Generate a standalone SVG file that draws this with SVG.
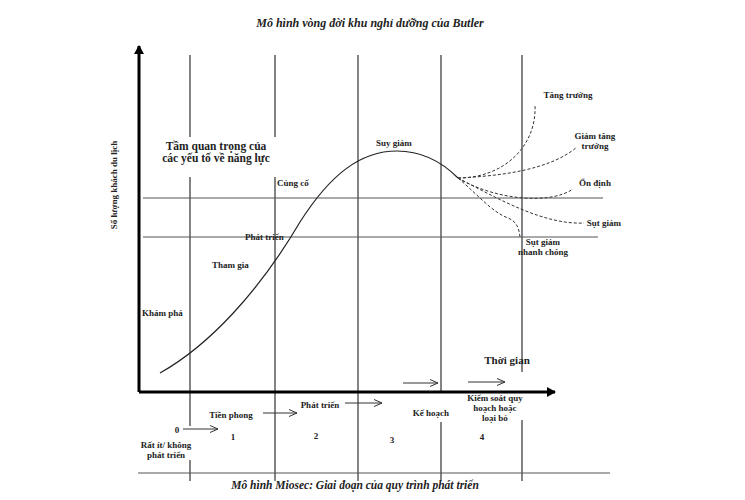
<svg xmlns="http://www.w3.org/2000/svg" width="745" height="500" viewBox="0 0 745 500">
<style>
.t{font-family:"Liberation Serif","Times New Roman",serif;font-weight:bold;fill:#222;}
.s{font-size:9px;}
.m{font-size:11.5px;}
.ti{font-style:italic;}
.v{stroke:#333;stroke-width:1.2;fill:none;}
.h{stroke:#555;stroke-width:1;fill:none;}
.ax{stroke:#000;stroke-width:3;fill:none;}
.d{stroke:#333;stroke-width:1;fill:none;stroke-dasharray:3,2;}
.ar{stroke:#333;stroke-width:1;fill:none;marker-end:url(#oa);}
</style>
<defs>
<marker id="oa" markerWidth="10" markerHeight="8" refX="9" refY="4" orient="auto" markerUnits="userSpaceOnUse">
<polyline points="1,0.5 9,4 1,7.5" fill="none" stroke="#333" stroke-width="1"/>
</marker>
<marker id="sa" markerWidth="10" markerHeight="10" refX="8" refY="5" orient="auto" markerUnits="userSpaceOnUse">
<path d="M0,0 L9,5 L0,10 z" fill="#000"/>
</marker>
</defs>
<rect width="745" height="500" fill="#fff"/>

<text class="t ti" style="font-size:12px" x="370" y="27" text-anchor="middle">Mô hình vòng đời khu nghỉ dưỡng của Butler</text>

<g id="grid">
<path class="v" d="M190,55V137M190,177V426M190,460V481"/>
<path class="v" d="M275,55V137M275,177V481"/>
<path class="v" d="M358,55V481"/>
<path class="v" d="M441,55V392M441,422V481"/>
<path class="v" d="M522,55V372M522,420V481"/>
<path class="h" d="M143,198H603"/>
<path class="h" d="M143,237H598"/>
<path class="h" d="M138,473H610"/>
</g>

<g id="axes">
<path class="ax" d="M139,392V46" marker-end="url(#sa)"/>
<path class="ax" d="M139,392H555" marker-end="url(#sa)"/>
</g>

<g id="connectors">
<path d="M160,373 C210,345 260,290 300,222 C330,175 360,151 397,151 C425,151 445,165 458,178" stroke="#222" stroke-width="1.2" fill="none"/>
<path class="d" d="M458,178 C505,178 537,145 535,105"/>
<path class="d" d="M458,178 C500,176 550,170 577,147"/>
<path class="d" d="M458,178 C495,200 550,205 573,189"/>
<path class="d" d="M458,178 C500,200 545,225 584,223"/>
<path class="d" d="M458,178 C478,195 492,212 508,218 C518,222 519,230 520,237"/>
<path class="ar" d="M403,383H438"/>
<path class="ar" d="M468,382H505"/>
<path class="ar" d="M183,429H218"/>
<path class="ar" d="M263,413H297"/>
<path class="ar" d="M345,403H382"/>
</g>

<g id="labels">
<text class="t" style="font-size:9px" transform="translate(117,185) rotate(-90)" text-anchor="middle">Số lượng khách du lịch</text>
<text class="t m" x="216" y="150" text-anchor="middle">Tầm quan trọng của</text>
<text class="t m" x="216" y="162" text-anchor="middle">các yếu tố về năng lực</text>
<text class="t s" x="277" y="186">Củng cố</text>
<text class="t s" x="245" y="240">Phát triển</text>
<text class="t s" x="212" y="268">Tham gia</text>
<text class="t s" x="142" y="316">Khám phá</text>
<text class="t s" x="394" y="146" text-anchor="middle">Suy giảm</text>
<text class="t s" x="568" y="98" text-anchor="middle">Tăng trưởng</text>
<text class="t s" x="595" y="139" text-anchor="middle">Giảm tăng</text>
<text class="t s" x="595" y="149" text-anchor="middle">trưởng</text>
<text class="t s" x="595" y="186" text-anchor="middle">Ổn định</text>
<text class="t s" x="604" y="226" text-anchor="middle">Sụt giảm</text>
<text class="t s" x="543" y="245" text-anchor="middle">Sụt giảm</text>
<text class="t s" x="543" y="255" text-anchor="middle">nhanh chóng</text>
<text class="t" style="font-size:11px" x="507" y="364" text-anchor="middle">Thời gian</text>
<text class="t s" x="495" y="401" text-anchor="middle">Kiểm soát quy</text>
<text class="t s" x="495" y="411" text-anchor="middle">hoạch hoặc</text>
<text class="t s" x="495" y="421" text-anchor="middle">loại bỏ</text>
<text class="t s" x="431" y="416" text-anchor="middle">Kế hoạch</text>
<text class="t s" x="231" y="418" text-anchor="middle">Tiền phong</text>
<text class="t s" x="320" y="408" text-anchor="middle">Phát triển</text>
<text class="t s" x="177" y="433" text-anchor="middle">0</text>
<text class="t s" x="233" y="440" text-anchor="middle">1</text>
<text class="t s" x="316" y="439" text-anchor="middle">2</text>
<text class="t s" x="392" y="443" text-anchor="middle">3</text>
<text class="t s" x="482" y="440" text-anchor="middle">4</text>
<text class="t s" x="166" y="448" text-anchor="middle">Rất ít/ không</text>
<text class="t s" x="166" y="458" text-anchor="middle">phát triển</text>
</g>

<text class="t ti" style="font-size:11.5px" x="355" y="489" text-anchor="middle">Mô hình Miosec: Giai đoạn của quy trình phát triển</text>
</svg>
